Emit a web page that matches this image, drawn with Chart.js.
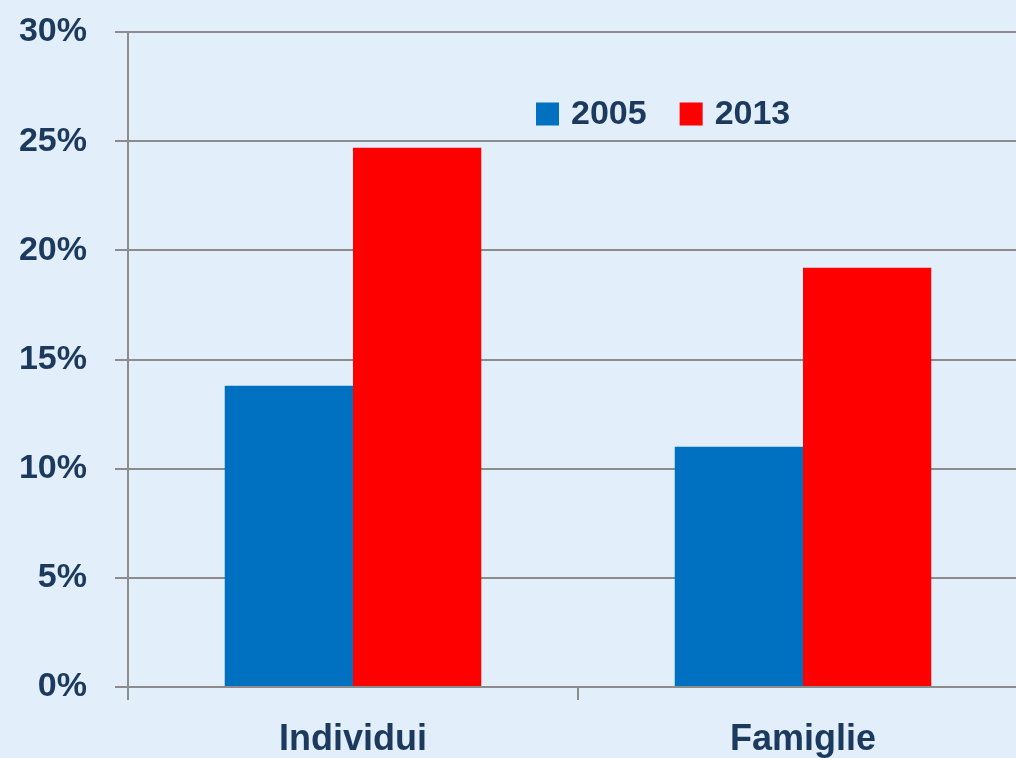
<!DOCTYPE html>
<html><head><meta charset="utf-8">
<script src="https://cdn.jsdelivr.net/npm/chart.js@4"></script>
<style>
html,body{margin:0;padding:0;overflow:hidden;background:#E2EEFA;width:1016px;height:758px}
#wrap{position:absolute;left:0;top:0;width:1028px;height:758px}
</style></head><body>
<div id="wrap"><canvas id="c"></canvas></div>
<script>
const categories = ['Individui', 'Famiglie'];
const seriesLabels = ['2005', '2013'];
const values2005 = [13.8, 11.0];
const values2013 = [24.7, 19.2];
const yTickValues = [0, 5, 10, 15, 20, 25, 30];

const GRID = '#8C8C8C';
const TEXT = '#1B3A5E';
const FONT = "'Liberation Sans', Arial, sans-serif";

const legendPlugin = {
  id: 'customLegend',
  afterDraw(chart, args, opts) {
    const ctx = chart.ctx;
    ctx.save();
    ctx.font = opts.font;
    ctx.textBaseline = 'middle';
    let x = opts.x;
    chart.data.datasets.forEach(ds => {
      ctx.fillStyle = ds.backgroundColor;
      ctx.fillRect(x, opts.y - opts.box / 2, opts.box, opts.box);
      x += opts.box + opts.gap;
      ctx.fillStyle = opts.color;
      ctx.fillText(ds.label, x, opts.y + 1);
      x += ctx.measureText(ds.label).width + opts.itemGap;
    });
    ctx.restore();
  }
};

new Chart(document.getElementById('c'), {
  type: 'bar',
  data: {
    labels: categories,
    datasets: [
      { label: seriesLabels[0], data: values2005, backgroundColor: '#0070C0', borderWidth: 0 },
      { label: seriesLabels[1], data: values2013, backgroundColor: '#FF0000', borderWidth: 0 }
    ]
  },
  options: {
    responsive: true,
    maintainAspectRatio: false,
    devicePixelRatio: 1,
    animation: false,
    layout: { padding: { top: 32, right: 0, bottom: 0, left: 0 } },
    datasets: { bar: { barPercentage: 1, categoryPercentage: 0.57 } },
    plugins: {
      legend: { display: false },
      tooltip: { enabled: false },
      customLegend: { x: 536, y: 114, box: 23, gap: 12, itemGap: 33, font: "bold 34px " + FONT, color: TEXT }
    },
    scales: {
      y: {
        min: 0, max: 30,
        afterBuildTicks: s => { s.ticks = yTickValues.map(v => ({ value: v })); },
        afterFit: s => { s.width = 128; },
        ticks: {
          callback: v => v + '%',
          font: { size: 34, family: FONT, weight: 'bold', lineHeight: 0.2 },
          color: TEXT,
          padding: 28
        },
        grid: { color: GRID, lineWidth: 2, tickLength: 13, tickColor: GRID },
        border: { color: GRID, width: 2 }
      },
      x: {
        afterFit: s => { s.height = 71; },
        ticks: {
          font: { size: 36, family: FONT, weight: 'bold' },
          color: TEXT,
          padding: 18
        },
        grid: { drawOnChartArea: false, drawTicks: true, tickLength: 13, color: GRID, lineWidth: 2, offset: true },
        border: { color: GRID, width: 2 }
      }
    }
  },
  plugins: [legendPlugin]
});
</script>
</body></html>
